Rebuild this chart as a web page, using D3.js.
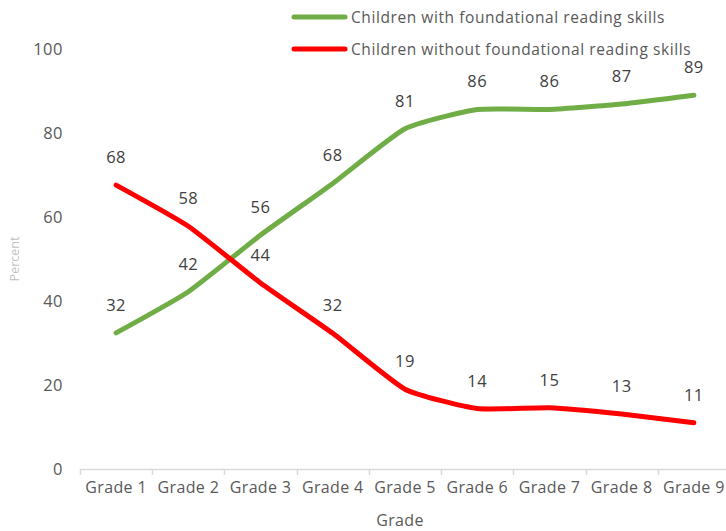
<!DOCTYPE html>
<html><head><meta charset="utf-8">
<script src="https://cdn.jsdelivr.net/npm/d3@7"></script>
<style>body{margin:0;background:#fff}svg{display:block}text{font-family:"Open Sans","Liberation Sans",sans-serif}</style>
</head><body><svg id="c" width="726" height="531"></svg>
<script>
const categories = ["Grade 1","Grade 2","Grade 3","Grade 4","Grade 5","Grade 6","Grade 7","Grade 8","Grade 9"];
const withSkills = [32.4, 42.2, 55.7, 68.0, 81.0, 85.6, 85.6, 86.9, 89.0];
const withoutSkills = [67.6, 57.8, 44.3, 32.3, 19.0, 14.4, 14.6, 13.1, 11.0];
const seriesNames = ["Children with foundational reading skills","Children without foundational reading skills"];
const seriesColors = ["#70ad47","#ff0000"];
const yTicks = [0,20,40,60,80,100];

const svg = d3.select("#c");
const x = d3.scaleBand().domain(categories).range([80, 730]);
const y = d3.scaleLinear().domain([0,100]).range([469, 49]);
const FONT = '"Open Sans","Liberation Sans",sans-serif';

// y tick labels
svg.append("g").selectAll("text").data(yTicks).join("text")
  .attr("x", 63).attr("y", d => y(d)).attr("dy","0.36em")
  .attr("text-anchor","end").attr("font-size",16.5).attr("letter-spacing",0.5).attr("fill","#595959").text(d=>d);

// x axis
const xa = svg.append("g").attr("transform","translate(0,469)")
  .call(d3.axisBottom(x).tickSize(0).tickPadding(13));
xa.select(".domain").remove();
xa.selectAll("text").attr("font-size",16).attr("letter-spacing",0.35).attr("fill","#595959").attr("font-family",FONT);
svg.append("line").attr("x1",80).attr("x2",730).attr("y1",469.5).attr("y2",469.5).attr("stroke","#d9d9d9").attr("stroke-width",1.5);
const bounds = categories.map(c => x(c)).concat([x.range()[1]]);
svg.append("g").selectAll("line").data(bounds).join("line")
  .attr("x1",d=>Math.round(d)+0.5).attr("x2",d=>Math.round(d)+0.5).attr("y1",469).attr("y2",475)
  .attr("stroke","#d9d9d9").attr("stroke-width",1.5);

// axis titles
svg.append("text").attr("x",400).attr("y",526).attr("text-anchor","middle").attr("font-size",16).attr("letter-spacing",0.35).attr("fill","#595959").text("Grade");
svg.append("text").attr("transform","translate(19,259) rotate(-90)").attr("text-anchor","middle").attr("font-size",12.5).attr("fill","#bfbfbf").text("Percent");

const cx = c => x(c) + x.bandwidth()/2;
const line = d3.line().x((d,i)=>cx(categories[i])).y(d=>y(d)).curve(d3.curveCardinal.tension(0.5));
const series = [withSkills, withoutSkills];
series.forEach((vals,si)=>{
  svg.append("path").datum(vals).attr("d",line).attr("fill","none")
    .attr("stroke",seriesColors[si]).attr("stroke-width",5).attr("stroke-linecap","round").attr("stroke-linejoin","round");
});
series.forEach((vals,si)=>{
  svg.append("g").selectAll("text").data(vals).join("text")
    .attr("x",(d,i)=>cx(categories[i])).attr("y",d=>y(d)-22)
    .attr("text-anchor","middle").attr("font-size",16.5).attr("letter-spacing",0.5).attr("fill","#404040")
    .text(d=>d3.format(".0f")(d));
});

// legend
const lg = svg.append("g");
seriesNames.forEach((n,i)=>{
  const ly = 17 + i*32;
  lg.append("line").attr("x1",294).attr("x2",345).attr("y1",ly).attr("y2",ly)
    .attr("stroke",seriesColors[i]).attr("stroke-width",5).attr("stroke-linecap","round");
  lg.append("text").attr("x",351).attr("y",ly).attr("dy","0.36em").attr("font-size",15.5).attr("letter-spacing",0.58).attr("fill","#595959").text(n);
});
</script></body></html>
